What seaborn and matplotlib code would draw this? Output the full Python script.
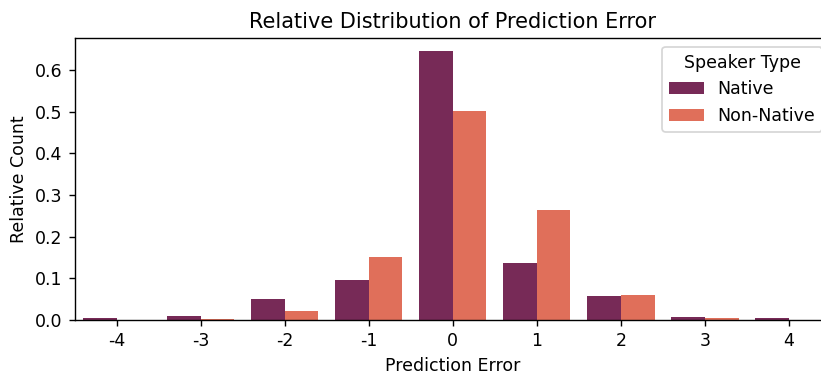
import matplotlib
matplotlib.use("Agg")
import matplotlib.pyplot as plt
import seaborn as sns
import pandas as pd

errors = ["-4", "-3", "-2", "-1", "0", "1", "2", "3", "4"]
native = [0.004, 0.010, 0.050, 0.096, 0.646, 0.137, 0.057, 0.007, 0.004]
non_native = [0.0, 0.003, 0.021, 0.151, 0.502, 0.264, 0.059, 0.006, 0.0]
groups = ["Native", "Non-Native"]
colors = ["#772A57", "#E06F5A"]

df = pd.DataFrame({
    "Prediction Error": errors * 2,
    "Relative Count": native + non_native,
    "Speaker Type": [groups[0]] * len(errors) + [groups[1]] * len(errors),
})

DPI = 125
fig = plt.figure(figsize=(821 / DPI, 374 / DPI), dpi=DPI)
ax = fig.add_axes([74.7 / 821, 1 - 320 / 374, (831 - 74.7) / 821, (320 - 38) / 374])
sns.barplot(data=df, x="Prediction Error", y="Relative Count", hue="Speaker Type",
            order=errors, hue_order=groups, palette=colors, saturation=1, ax=ax)
ax.set_title("Relative Distribution of Prediction Error", fontsize=12)
ax.set_ylim(0, 0.677)
ax.set_yticks([0, 0.1, 0.2, 0.3, 0.4, 0.5, 0.6])
leg = ax.legend(title="Speaker Type", loc="upper right")
fig.savefig("out.png", dpi=DPI)
